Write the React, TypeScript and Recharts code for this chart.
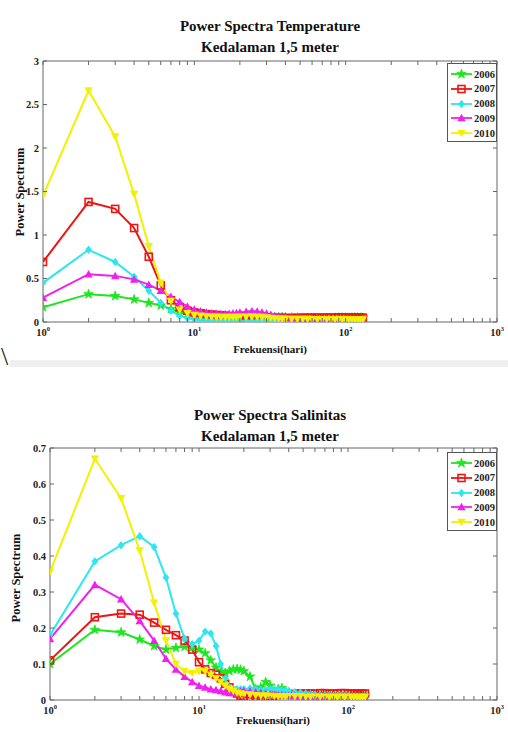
import React from 'react';
import { LineChart, Line, XAxis, YAxis } from 'recharts';

// frequency samples (hari)
const FREQ = [1, 2, 3, 4, 5, 6, 7, 8, 9, 10, 11, 12, 13, 14, 15, 16, 17, 18, 19, 20,
  22, 24, 26, 28, 30, 32, 34, 36, 38, 40,
  44, 48, 52, 56, 60, 65, 70, 75, 80, 85, 90, 95, 100, 105, 110, 115, 120, 125, 130];

// Power Spectra Temperature
const T_2006 = [0.17, 0.32, 0.30, 0.26, 0.22, 0.19, 0.15, 0.11, 0.09, 0.075,
  0.065, 0.06, 0.058, 0.056, 0.055, 0.053, 0.052, 0.05, 0.05, 0.049,
  0.048, 0.047, 0.047, 0.048, 0.05, 0.052, 0.054, 0.055, 0.055, 0.054,
  0.052, 0.05, 0.048, 0.046, 0.045, 0.044, 0.045, 0.046, 0.047, 0.048, 0.05, 0.05, 0.049, 0.048, 0.049, 0.05, 0.05, 0.049, 0.048];
const T_2007 = [0.69, 1.38, 1.30, 1.08, 0.75, 0.42, 0.25, 0.17, 0.13, 0.11,
  0.10, 0.09, 0.085, 0.08, 0.076, 0.072, 0.068, 0.065, 0.062, 0.06,
  0.058, 0.056, 0.054, 0.052, 0.05, 0.049, 0.048, 0.048, 0.047, 0.047,
  0.047, 0.048, 0.049, 0.05, 0.05, 0.051, 0.05, 0.05, 0.05, 0.051, 0.053, 0.052, 0.051, 0.05, 0.05, 0.051, 0.05, 0.05, 0.05];
const T_2008 = [0.45, 0.83, 0.69, 0.52, 0.36, 0.22, 0.13, 0.07, 0.045, 0.032,
  0.026, 0.022, 0.02, 0.018, 0.017, 0.016, 0.015, 0.014, 0.014, 0.013,
  0.013, 0.012, 0.012, 0.012, 0.011, 0.011, 0.01, 0.01, 0.01, 0.01,
  0.012, 0.015, 0.02, 0.024, 0.026, 0.024, 0.02, 0.017, 0.014, 0.012, 0.011, 0.01, 0.01, 0.011, 0.012, 0.011, 0.01, 0.01, 0.01];
const T_2009 = [0.28, 0.55, 0.53, 0.49, 0.43, 0.36, 0.29, 0.23, 0.18, 0.145,
  0.125, 0.11, 0.1, 0.095, 0.092, 0.092, 0.096, 0.1, 0.105, 0.11,
  0.118, 0.125, 0.12, 0.11, 0.098, 0.085, 0.07, 0.06, 0.054, 0.05,
  0.046, 0.043, 0.041, 0.04, 0.038, 0.037, 0.036, 0.035, 0.035, 0.034, 0.034, 0.033, 0.033, 0.033, 0.032, 0.032, 0.031, 0.031, 0.031];
const T_2010 = [1.45, 2.66, 2.13, 1.47, 0.87, 0.45, 0.24, 0.14, 0.1, 0.08,
  0.07, 0.065, 0.06, 0.058, 0.056, 0.055, 0.055, 0.056, 0.057, 0.058,
  0.06, 0.062, 0.06, 0.055, 0.05, 0.046, 0.042, 0.039, 0.037, 0.035,
  0.034, 0.033, 0.032, 0.032, 0.031, 0.031, 0.03, 0.03, 0.03, 0.029, 0.029, 0.029, 0.028, 0.028, 0.028, 0.028, 0.027, 0.027, 0.027];

// Power Spectra Salinitas
const S_2006 = [0.10, 0.195, 0.188, 0.168, 0.15, 0.14, 0.145, 0.148, 0.145, 0.14,
  0.13, 0.11, 0.09, 0.078, 0.075, 0.08, 0.085, 0.086, 0.084, 0.08,
  0.065, 0.03, 0.035, 0.05, 0.04, 0.025, 0.03, 0.033, 0.025, 0.02,
  0.017, 0.016, 0.015, 0.014, 0.013, 0.012, 0.012, 0.011, 0.012, 0.012, 0.011, 0.011, 0.01, 0.01, 0.01, 0.01, 0.01, 0.01, 0.01];
const S_2007 = [0.11, 0.23, 0.24, 0.237, 0.215, 0.195, 0.18, 0.165, 0.14, 0.105,
  0.085, 0.075, 0.07, 0.06, 0.045, 0.035, 0.025, 0.018, 0.012, 0.008,
  0.006, 0.006, 0.007, 0.008, 0.01, 0.012, 0.014, 0.015, 0.016, 0.016,
  0.017, 0.018, 0.018, 0.018, 0.018, 0.019, 0.019, 0.018, 0.018, 0.018, 0.019, 0.019, 0.018, 0.018, 0.018, 0.018, 0.018, 0.018, 0.018];
const S_2008 = [0.18, 0.385, 0.43, 0.455, 0.425, 0.34, 0.24, 0.17, 0.155, 0.165,
  0.19, 0.185, 0.15, 0.10, 0.06, 0.035, 0.03, 0.03, 0.03, 0.03,
  0.032, 0.03, 0.028, 0.028, 0.03, 0.03, 0.028, 0.027, 0.026, 0.025,
  0.022, 0.02, 0.018, 0.016, 0.015, 0.014, 0.013, 0.013, 0.012, 0.012, 0.012, 0.011, 0.011, 0.01, 0.01, 0.01, 0.01, 0.01, 0.01];
const S_2009 = [0.17, 0.32, 0.28, 0.22, 0.165, 0.115, 0.085, 0.065, 0.05, 0.04,
  0.035, 0.03, 0.028, 0.025, 0.022, 0.02, 0.02, 0.022, 0.024, 0.025,
  0.024, 0.022, 0.02, 0.018, 0.016, 0.015, 0.014, 0.013, 0.012, 0.012,
  0.011, 0.01, 0.01, 0.01, 0.009, 0.009, 0.009, 0.009, 0.008, 0.008, 0.008, 0.008, 0.008, 0.008, 0.008, 0.008, 0.008, 0.008, 0.008];
const S_2010 = [0.356, 0.67, 0.56, 0.415, 0.27, 0.165, 0.10, 0.08, 0.075, 0.08,
  0.08, 0.07, 0.06, 0.05, 0.04, 0.03, 0.025, 0.02, 0.018, 0.016,
  0.015, 0.013, 0.012, 0.012, 0.011, 0.011, 0.01, 0.01, 0.01, 0.01,
  0.01, 0.01, 0.009, 0.009, 0.009, 0.009, 0.008, 0.008, 0.008, 0.008, 0.008, 0.008, 0.008, 0.008, 0.008, 0.008, 0.008, 0.008, 0.008];

const YEARS = ['2006', '2007', '2008', '2009', '2010'];
const MAJOR_X = [1, 10, 100, 1000];
const X_TICKS = [1, 2, 3, 4, 5, 6, 7, 8, 9, 10, 20, 30, 40, 50, 60, 70, 80, 90,
  100, 200, 300, 400, 500, 600, 700, 800, 900, 1000];
const T_TICKS = [0, 0.5, 1, 1.5, 2, 2.5, 3];
const S_TICKS = [0, 0.1, 0.2, 0.3, 0.4, 0.5, 0.6, 0.7];

const STYLES = [
  { color: '#1ee61e', shape: 'star' },
  { color: '#ee1515', shape: 'square' },
  { color: '#2ee6ee', shape: 'diamond' },
  { color: '#ee22ee', shape: 'up' },
  { color: '#f2f200', shape: 'down' },
];

const FONT = '"Liberation Serif", "Times New Roman", serif';
const AXIS = '#666';

const tempRows = FREQ.map((f, i) => ({
  f, y2006: T_2006[i], y2007: T_2007[i], y2008: T_2008[i], y2009: T_2009[i], y2010: T_2010[i],
}));
const salRows = FREQ.map((f, i) => ({
  f, y2006: S_2006[i], y2007: S_2007[i], y2008: S_2008[i], y2009: S_2009[i], y2010: S_2010[i],
}));

function Marker({ shape, cx, cy, color }: any) {
  const r = 4.2;
  if (shape === 'star') {
    const pts = [];
    for (let k = 0; k < 10; k++) {
      const a = -Math.PI / 2 + (k * Math.PI) / 5;
      const rr = k % 2 === 0 ? r + 0.8 : r * 0.45;
      pts.push(`${cx + rr * Math.cos(a)},${cy + rr * Math.sin(a)}`);
    }
    return <polygon points={pts.join(' ')} fill={color} stroke={color} strokeWidth={0.8} />;
  }
  if (shape === 'square') {
    return <rect x={cx - 3.5} y={cy - 3.5} width={7} height={7} fill="none" stroke={color} strokeWidth={1.6} />;
  }
  if (shape === 'diamond') {
    return <polygon points={`${cx},${cy - r} ${cx + r * 0.8},${cy} ${cx},${cy + r} ${cx - r * 0.8},${cy}`} fill={color} />;
  }
  if (shape === 'up') {
    return <polygon points={`${cx},${cy - r} ${cx + r},${cy + r * 0.8} ${cx - r},${cy + r * 0.8}`} fill={color} />;
  }
  return <polygon points={`${cx},${cy + r} ${cx + r},${cy - r * 0.8} ${cx - r},${cy - r * 0.8}`} fill={color} />;
}

const renderDot = (shape: string, color: string) => (props: any) => {
  const { cx, cy, index } = props;
  if (cx == null || cy == null) return <g key={index} />;
  return <Marker key={index} shape={shape} cx={cx} cy={cy} color={color} />;
};

const XTickBottom = (props: any) => {
  const { x, y, payload } = props;
  const v = payload.value;
  const major = MAJOR_X.includes(v);
  return (
    <g>
      <line x1={x} x2={x} y1={y} y2={y - 4} stroke={AXIS} />
      {major && (
        <text x={x} y={y + 14} textAnchor="middle" fontFamily={FONT} fontWeight="bold" fontSize={10.5} fill="#222">
          10<tspan dy={-5} fontSize={6.5}>{Math.round(Math.log10(v))}</tspan>
        </text>
      )}
    </g>
  );
};

const XTickTop = (props: any) => {
  const { x, y } = props;
  return <line x1={x} x2={x} y1={y} y2={y + 4} stroke={AXIS} />;
};

const YTickLeft = (props: any) => {
  const { x, y, payload } = props;
  return (
    <g>
      <line x1={x} x2={x + 4} y1={y} y2={y} stroke={AXIS} />
      <text x={x - 4} y={y + 3.5} textAnchor="end" fontFamily={FONT} fontWeight="bold" fontSize={10.5} fill="#222">
        {String(payload.value)}
      </text>
    </g>
  );
};

const YTickRight = (props: any) => {
  const { x, y } = props;
  return <line x1={x} x2={x - 4} y1={y} y2={y} stroke={AXIS} />;
};

function SpectraChart({ rows, yMax, yTicks, top, left, right, bottom }: any) {
  return (
    <LineChart width={508} height={365} data={rows} margin={{ top: 0, right: 0, bottom: 0, left: 0 }}>
      <XAxis xAxisId="b" dataKey="f" type="number" scale="log" domain={[1, 1000]} ticks={X_TICKS}
        interval={0} orientation="bottom" height={bottom} tickLine={false} tickSize={0} tickMargin={0}
        axisLine={{ stroke: AXIS }} tick={(p: any) => <XTickBottom {...p} />} allowDataOverflow />
      <XAxis xAxisId="t" dataKey="f" type="number" scale="log" domain={[1, 1000]} ticks={X_TICKS}
        interval={0} orientation="top" height={top} tickLine={false} tickSize={0} tickMargin={0}
        axisLine={{ stroke: AXIS }} tick={(p: any) => <XTickTop {...p} />} allowDataOverflow />
      <YAxis yAxisId="l" type="number" domain={[0, yMax]} ticks={yTicks} interval={0} width={left}
        tickLine={false} tickSize={0} tickMargin={0} axisLine={{ stroke: AXIS }}
        tick={(p: any) => <YTickLeft {...p} />} allowDataOverflow />
      <YAxis yAxisId="r" orientation="right" type="number" domain={[0, yMax]} ticks={yTicks} interval={0}
        width={right} tickLine={false} tickSize={0} tickMargin={0} axisLine={{ stroke: AXIS }}
        tick={(p: any) => <YTickRight {...p} />} allowDataOverflow />
      {YEARS.map((yr, i) => (
        <Line key={yr} xAxisId="b" yAxisId="l" type="linear" dataKey={`y${yr}`} stroke={STYLES[i].color}
          strokeWidth={2} dot={renderDot(STYLES[i].shape, STYLES[i].color)} activeDot={false}
          isAnimationActive={false} />
      ))}
    </LineChart>
  );
}

function LegendBox({ left, top }: any) {
  return (
    <div style={{ position: 'absolute', left, top, width: 50, height: 79, border: '1px solid #555', background: '#fff', boxSizing: 'border-box' }}>
      {YEARS.map((yr, i) => (
        <div key={yr} style={{ position: 'absolute', left: 0, top: 3 + i * 14.8, height: 14, display: 'flex', alignItems: 'center' }}>
          <svg width={26} height={14}>
            <line x1={3} x2={24} y1={7} y2={7} stroke={STYLES[i].color} strokeWidth={1.8} />
            <Marker shape={STYLES[i].shape} cx={13.5} cy={7} color={STYLES[i].color} />
          </svg>
          <span style={{ fontFamily: FONT, fontWeight: 'bold', fontSize: 10.5, color: '#222' }}>{yr}</span>
        </div>
      ))}
    </div>
  );
}

const textStyle: any = { position: 'absolute', fontFamily: FONT, fontWeight: 'bold', color: '#111', whiteSpace: 'nowrap' };

export default function App() {
  return (
    <div style={{ position: 'absolute', left: 0, top: 0, width: 508, height: 732, background: '#fff', overflow: 'hidden' }}>
      {/* Temperature */}
      <div style={{ ...textStyle, left: 0, width: 540, top: 16, textAlign: 'center', fontSize: 15, lineHeight: '21px' }}>
        Power Spectra Temperature<br />Kedalaman 1,5 meter
      </div>
      <div style={{ position: 'absolute', left: 0, top: 0 }}>
        <SpectraChart rows={tempRows} yMax={3} yTicks={T_TICKS} top={61} left={43} right={11} bottom={43} />
      </div>
      <LegendBox left={447} top={63} />
      <div style={{ ...textStyle, left: 20, top: 192, fontSize: 12.5, transform: 'translate(-50%, -50%) rotate(-90deg)' }}>Power Spectrum</div>
      <div style={{ ...textStyle, left: 270, top: 349, fontSize: 11, transform: 'translate(-50%, -50%)' }}>Frekuensi(hari)</div>

      {/* separator */}
      <div style={{ position: 'absolute', left: 10, top: 360, width: 498, height: 7, background: '#f0f0f0' }} />
      <div style={{ position: 'absolute', left: 1, top: 343, fontFamily: FONT, fontSize: 26, lineHeight: '28px', color: '#222' }}>\</div>

      {/* Salinitas */}
      <div style={{ ...textStyle, left: 0, width: 540, top: 405, textAlign: 'center', fontSize: 15, lineHeight: '21px' }}>
        Power Spectra Salinitas<br />Kedalaman 1,5 meter
      </div>
      <div style={{ position: 'absolute', left: 0, top: 380 }}>
        <SpectraChart rows={salRows} yMax={0.7} yTicks={S_TICKS} top={68} left={50} right={11} bottom={45} />
      </div>
      <LegendBox left={447} top={452} />
      <div style={{ ...textStyle, left: 16, top: 578, fontSize: 12.5, transform: 'translate(-50%, -50%) rotate(-90deg)' }}>Power Spectrum</div>
      <div style={{ ...textStyle, left: 273, top: 720, fontSize: 11, transform: 'translate(-50%, -50%)' }}>Frekuensi(hari)</div>
    </div>
  );
}
